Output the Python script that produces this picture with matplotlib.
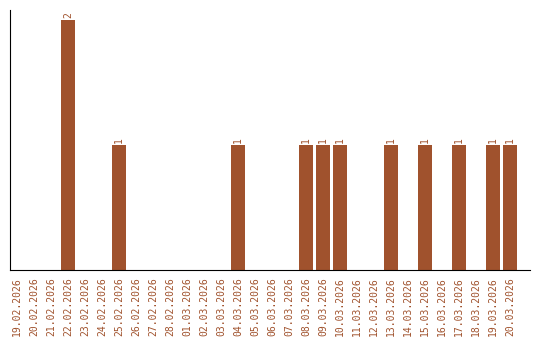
import matplotlib
matplotlib.use("Agg")
import matplotlib.pyplot as plt
import datetime as dt

start = dt.date(2026, 2, 19)
dates = [(start + dt.timedelta(days=i)).strftime("%d.%m.%Y") for i in range(30)]
counts_by_date = {
    "22.02.2026": 2, "25.02.2026": 1, "04.03.2026": 1, "08.03.2026": 1,
    "09.03.2026": 1, "10.03.2026": 1, "13.03.2026": 1, "15.03.2026": 1,
    "17.03.2026": 1, "19.03.2026": 1, "20.03.2026": 1,
}
values = [counts_by_date.get(d, 0) for d in dates]

color = "#A0522D"
font = "DejaVu Sans Mono"
fig = plt.figure(figsize=(5.4, 3.4), dpi=100)
ax = fig.add_axes([10/540, 70/340, 520/540, 260/340])
x = list(range(len(dates)))
ax.bar(x, values, width=0.82, color=color)
for xi, v in zip(x, values):
    if v > 0:
        ax.text(xi, v + 0.015, str(v), rotation=90, ha="center", va="bottom",
                fontsize=7, color=color, family=font)
ax.set_xlim(-0.41, 30.18)
ax.set_ylim(0, 2.08)
ax.set_xticks(x)
ax.set_xticklabels(dates, rotation=90, fontsize=7, color=color, family=font)
ax.tick_params(axis="x", length=0, pad=5)
ax.set_yticks([])
for s in ["top", "right"]:
    ax.spines[s].set_visible(False)
ax.spines["left"].set_color("black")
ax.spines["bottom"].set_color("black")
fig.savefig("out.png", dpi=100)
